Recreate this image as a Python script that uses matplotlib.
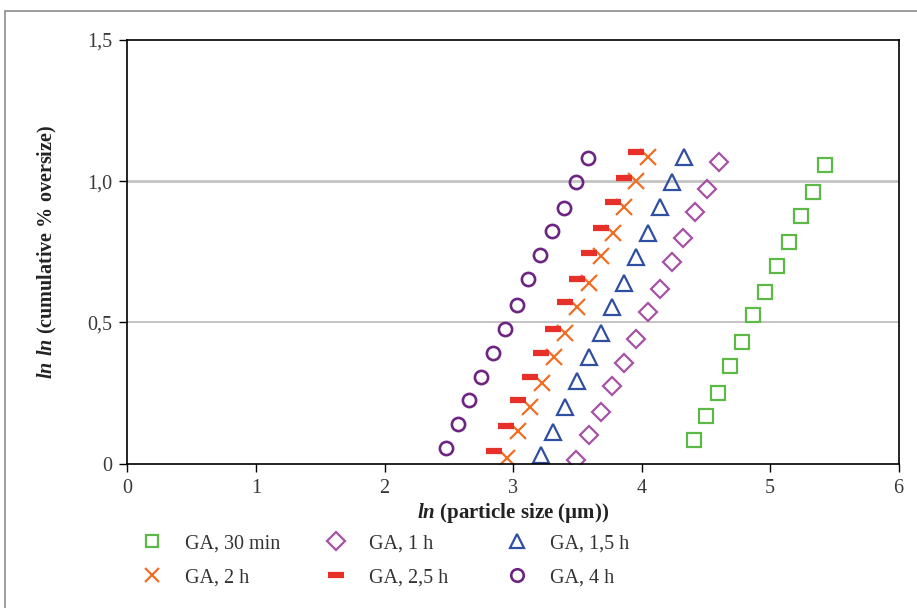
import matplotlib.pyplot as plt
import matplotlib
from matplotlib.patches import Rectangle

# ln(particle size) / ln ln(cumulative % oversize) per grinding time
x_30min = [4.41, 4.50, 4.594, 4.685, 4.778, 4.87, 4.963, 5.053, 5.146, 5.24, 5.33, 5.424]
y_30min = [0.084, 0.168, 0.251, 0.345, 0.430, 0.526, 0.607, 0.699, 0.784, 0.877, 0.961, 1.057]

x_1h = [3.493, 3.589, 3.682, 3.773, 3.866, 3.960, 4.053, 4.141, 4.234, 4.325, 4.418, 4.512, 4.605]
y_1h = [0.013, 0.101, 0.181, 0.275, 0.358, 0.441, 0.537, 0.620, 0.714, 0.798, 0.891, 0.974, 1.068]

x_15h = [3.221, 3.314, 3.404, 3.498, 3.589, 3.682, 3.773, 3.866, 3.960, 4.053, 4.141, 4.236, 4.330]
y_15h = [0.031, 0.113, 0.201, 0.293, 0.376, 0.461, 0.553, 0.638, 0.732, 0.815, 0.907, 0.998, 1.086]

x_2h = [2.949, 3.039, 3.13, 3.223, 3.316, 3.407, 3.497, 3.591, 3.682, 3.775, 3.866, 3.954, 4.053]
y_2h = [0.021, 0.115, 0.201, 0.284, 0.376, 0.463, 0.555, 0.638, 0.735, 0.817, 0.909, 1.001, 1.086]

x_25h = [2.855, 2.946, 3.039, 3.130, 3.221, 3.314, 3.407, 3.501, 3.591, 3.687, 3.778, 3.866, 3.960]
y_25h = [0.046, 0.132, 0.225, 0.307, 0.392, 0.476, 0.571, 0.653, 0.746, 0.833, 0.926, 1.010, 1.102]

x_4h = [2.477, 2.568, 2.658, 2.751, 2.845, 2.935, 3.029, 3.12, 3.213, 3.306, 3.397, 3.488, 3.581]
y_4h = [0.056, 0.140, 0.225, 0.307, 0.392, 0.475, 0.560, 0.653, 0.737, 0.822, 0.904, 0.998, 1.082]

x_ticks = [0, 1, 2, 3, 4, 5, 6]
y_ticks = [0, 0.5, 1.0, 1.5]
y_tick_labels = ["0", "0,5", "1,0", "1,5"]


def main():
    matplotlib.rcParams['font.family'] = 'Liberation Serif'
    matplotlib.rcParams['mathtext.fontset'] = 'custom'
    matplotlib.rcParams['mathtext.bfit'] = 'Liberation Serif:italic:bold'
    matplotlib.rcParams['mathtext.rm'] = 'Liberation Serif'

    fig = plt.figure(figsize=(9.17, 6.08), dpi=100)
    ax = fig.add_axes([0.139, 0.2375, 0.841, 0.6967])

    # outer frame of the figure (only left and top visible)
    fig.patches.append(Rectangle((4.7 / 917, -0.1), 1.2, 1 - 11 / 608 + 0.1,
                                 transform=fig.transFigure, fill=False,
                                 edgecolor='#8c8c8c', lw=1.2, clip_on=False))

    for yv, lw in [(0.5, 1.4), (1.0, 2.0)]:
        ax.axhline(yv, color='#c4c4c4', lw=lw, zorder=0)

    mew = 1.6
    h_30 = ax.plot(x_30min, y_30min, ls='none', marker='s', ms=9.5, mfc='none',
                   mec='#5cb946', mew=mew, label='GA, 30 min')[0]
    h_2 = ax.plot(x_2h, y_2h, ls='none', marker='x', ms=11, mec='#f26e22',
                  mew=mew, label='GA, 2 h')[0]
    h_1 = ax.plot(x_1h, y_1h, ls='none', marker='D', ms=9.5, mfc='none',
                  mec='#a652a6', mew=mew, label='GA, 1 h')[0]
    h_25 = ax.plot(x_25h, y_25h, ls='none', marker='_', ms=12, mec='#e8302a',
                   mew=4.5, label='GA, 2,5 h')[0]
    h_15 = ax.plot(x_15h, y_15h, ls='none', marker='^', ms=11, mfc='none',
                   mec='#2f4fa2', mew=mew, label='GA, 1,5 h')[0]
    h_4 = ax.plot(x_4h, y_4h, ls='none', marker='o', ms=9.5, mfc='none',
                  mec='#6d2582', mew=mew + 0.3, label='GA, 4 h')[0]

    ax.set_xlim(0, 6)
    ax.set_ylim(0, 1.5)
    ax.set_xticks(x_ticks)
    ax.set_yticks(y_ticks)
    ax.set_yticklabels(y_tick_labels)
    ax.tick_params(direction='out', length=6, width=1, labelsize=14.5,
                   labelcolor='#3a3a3a', pad=5)
    for s in ax.spines.values():
        s.set_linewidth(1.2)

    ax.set_xlabel(r'$\mathbfit{ln}$ (particle size (µm))', fontsize=15,
                  fontweight='bold', color='#222222', labelpad=2)
    ax.set_ylabel(r'$\mathbfit{ln\ ln}$ (cumulative % oversize)', fontsize=14.5,
                  fontweight='bold', color='#222222', labelpad=20)

    # legend: three columns of two entries each
    columns = [[h_30, h_2], [h_1, h_25], [h_15, h_4]]
    lefts = [141 / 917, 325 / 917, 506 / 917]
    for col, left in zip(columns, lefts):
        leg = fig.legend(handles=col, labels=[h.get_label() for h in col],
                         loc='upper left', bbox_to_anchor=(left, 0.1217),
                         frameon=False, fontsize=14.5, handlelength=1.1,
                         handletextpad=1.1, labelspacing=0.75, borderpad=0,
                         borderaxespad=0, numpoints=1, markerscale=0.95)
        for t in leg.get_texts():
            t.set_color('#333333')

    plt.savefig('out.png', dpi=100)


if __name__ == "__main__":
    main()
